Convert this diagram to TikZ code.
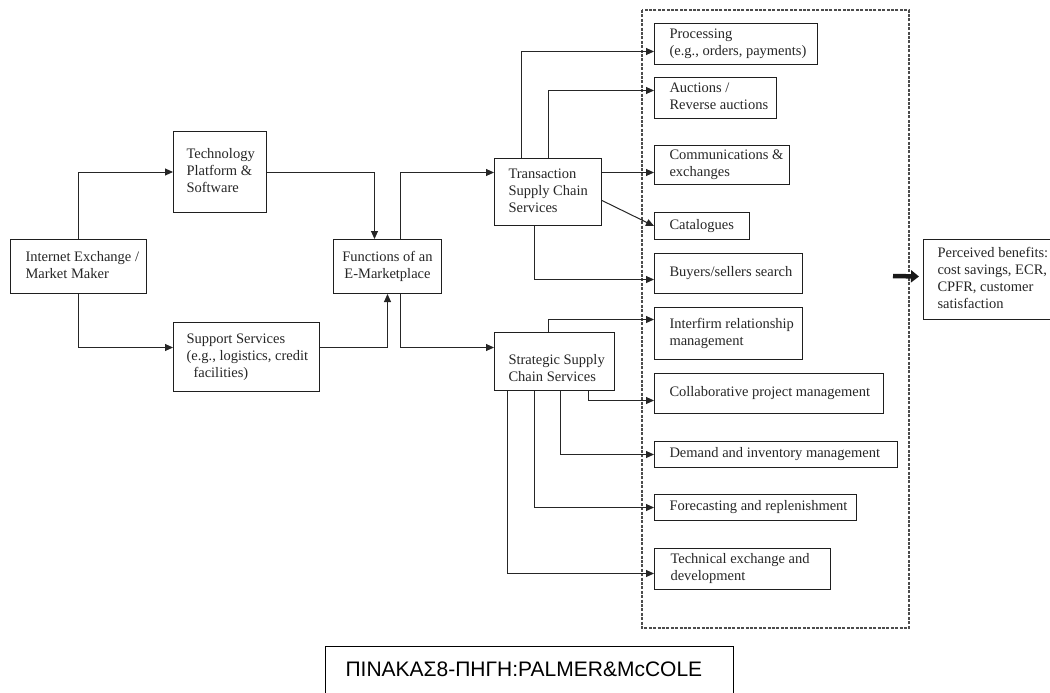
\documentclass[tikz,border=0pt]{standalone}
\usepackage{fontspec}
\setmainfont{Liberation Serif}
\newfontfamily\capfont{Liberation Sans}
\usetikzlibrary{arrows.meta}

% left-aligned block of lines inside a box of fixed inner width;
% optional argument moves the lines down or up without changing the box
\newcommand\boxtext[3][0pt]{\raisebox{#1}[\height][\depth]{\makebox[#2][l]{\begin{tabular}{@{}l@{}}#3\end{tabular}}}}

\begin{document}
\begin{tikzpicture}[x=1pt,y=-1pt,
  bx/.style={draw=black!88, line width=1pt, anchor=north west, inner ysep=0pt,
             font=\fontsize{14.5}{17}\selectfont, text=black!85},
  arr/.style={draw=black!85, line width=1pt, -{Triangle[length=8pt,width=7pt]}},
  bigarr/.style={draw=black!90, line width=4.5pt, -{Triangle[length=8pt,width=12pt]}},
  dashbox/.style={draw=black!70, line width=1.1pt, dash pattern=on 3pt off 1.4pt},
]
\useasboundingbox (0,0) rectangle (1050,693);

% left half: sources and the e-marketplace
\node[bx, minimum width=136pt, minimum height=54pt, inner xsep=15pt] (ie) at (10,239)
  {\boxtext{106pt}{Internet Exchange /\\Market Maker}};
\node[bx, minimum width=93pt, minimum height=81pt, inner xsep=13pt] (tech) at (173,131)
  {\boxtext{67pt}{Technology\\Platform \&\\Software}};
\node[bx, minimum width=146pt, minimum height=69pt, inner xsep=13pt] (sup) at (173,322)
  {\boxtext{120pt}{Support Services\\(e.g., logistics, credit\\\hspace*{7pt}facilities)}};
\node[bx, minimum width=108pt, minimum height=54pt, inner xsep=0pt, align=center] (func) at (333,239)
  {Functions of an\\E-Marketplace};
\node[bx, minimum width=107pt, minimum height=67pt, inner xsep=14pt] (trans) at (494,158)
  {\boxtext{79pt}{Transaction\\Supply Chain\\Services}};
\node[bx, minimum width=120pt, minimum height=58pt, inner xsep=14pt] (strat) at (494,332)
  {\boxtext[-8pt]{92pt}{Strategic Supply\\Chain Services}};

% services grouped in the dashed frame
\coordinate (frameNW) at (642,10);
\coordinate (frameSE) at (909,628);
\draw[dashbox] (frameNW) rectangle (frameSE);

\node[bx, minimum width=163pt, minimum height=41pt, inner xsep=15pt] (proc) at (654,23)
  {\boxtext{133pt}{Processing\\(e.g., orders, payments)}};
\node[bx, minimum width=122pt, minimum height=41pt, inner xsep=15pt] (auct) at (654,77)
  {\boxtext{92pt}{Auctions /\\Reverse auctions}};
\node[bx, minimum width=135pt, minimum height=39pt, inner xsep=15pt] (comm) at (654,145)
  {\boxtext{105pt}{Communications \&\\exchanges}};
\node[bx, minimum width=95pt, minimum height=27pt, inner xsep=15pt] (cat) at (654,212)
  {\boxtext{65pt}{Catalogues}};
\node[bx, minimum width=148pt, minimum height=40pt, inner xsep=15pt] (buy) at (654,253)
  {\boxtext{118pt}{Buyers/sellers search}};
\node[bx, minimum width=148pt, minimum height=52pt, inner xsep=15pt] (inter) at (654,307)
  {\boxtext{118pt}{Interfirm relationship\\management}};
\node[bx, minimum width=229pt, minimum height=40pt, inner xsep=15pt] (coll) at (654,373)
  {\boxtext{199pt}{Collaborative project management}};
\node[bx, minimum width=243pt, minimum height=26pt, inner xsep=15pt] (dem) at (654,441)
  {\boxtext{213pt}{Demand and inventory management}};
\node[bx, minimum width=202pt, minimum height=26pt, inner xsep=15pt] (fore) at (654,494)
  {\boxtext{172pt}{Forecasting and replenishment}};
\node[bx, minimum width=176pt, minimum height=41pt, inner xsep=16pt] (techx) at (654,548)
  {\boxtext{144pt}{Technical exchange and\\development}};

% outcome
\node[bx, minimum width=147pt, minimum height=80pt, inner xsep=14pt] (ben) at (923,239)
  {\boxtext{119pt}{Perceived benefits:\\cost savings, ECR,\\CPFR, customer\\satisfaction}};
\coordinate (benfrom) at (893,276);
\draw[bigarr] (benfrom) -- ([xshift=-4pt,yshift=3pt]ben.west);

% connectors
\draw[arr] (ie.north) |- (tech.west);
\draw[arr] (ie.south) |- ([yshift=9.5pt]sup.west);
\draw[arr] (tech.east) -| ([xshift=-13pt]func.north);
\draw[arr] ([yshift=9.5pt]sup.east) -| (func.south);
\draw[arr] ([xshift=13pt]func.north) |- ([yshift=19.5pt]trans.west);
\draw[arr] ([xshift=13pt]func.south) |- ([yshift=14pt]strat.west);

\draw[arr] ([xshift=-26.5pt]trans.north) |- ([yshift=-7.5pt]proc.west);
\draw[arr] (trans.north) |- ([yshift=7.5pt]auct.west);
\draw[arr] ([yshift=19.5pt]trans.east) -- ([yshift=-7.5pt]comm.west);
\draw[arr] ([yshift=-8.5pt]trans.east) -- (cat.west);
\draw[arr] ([xshift=-13.5pt]trans.south) |- ([yshift=-6pt]buy.west);

\draw[arr] ([xshift=-6pt]strat.north) |- ([yshift=14pt]inter.west);
\draw[arr] ([xshift=34pt]strat.south) |- ([yshift=-7pt]coll.west);
\draw[arr] ([xshift=6pt]strat.south) |- (dem.west);
\draw[arr] ([xshift=-20pt]strat.south) |- (fore.west);
\draw[arr] ([xshift=-47pt]strat.south) |- ([yshift=-4.5pt]techx.west);

% caption
\node[bx, draw=black, minimum width=408pt, minimum height=50pt, inner xsep=20pt,
      font=\capfont\fontsize{21}{25}\selectfont, text=black] (cap) at (325,646)
  {\boxtext{368pt}{ΠΙΝΑΚΑΣ8-ΠΗΓΗ:PALMER\&McCOLE}};
\end{tikzpicture}
\end{document}
